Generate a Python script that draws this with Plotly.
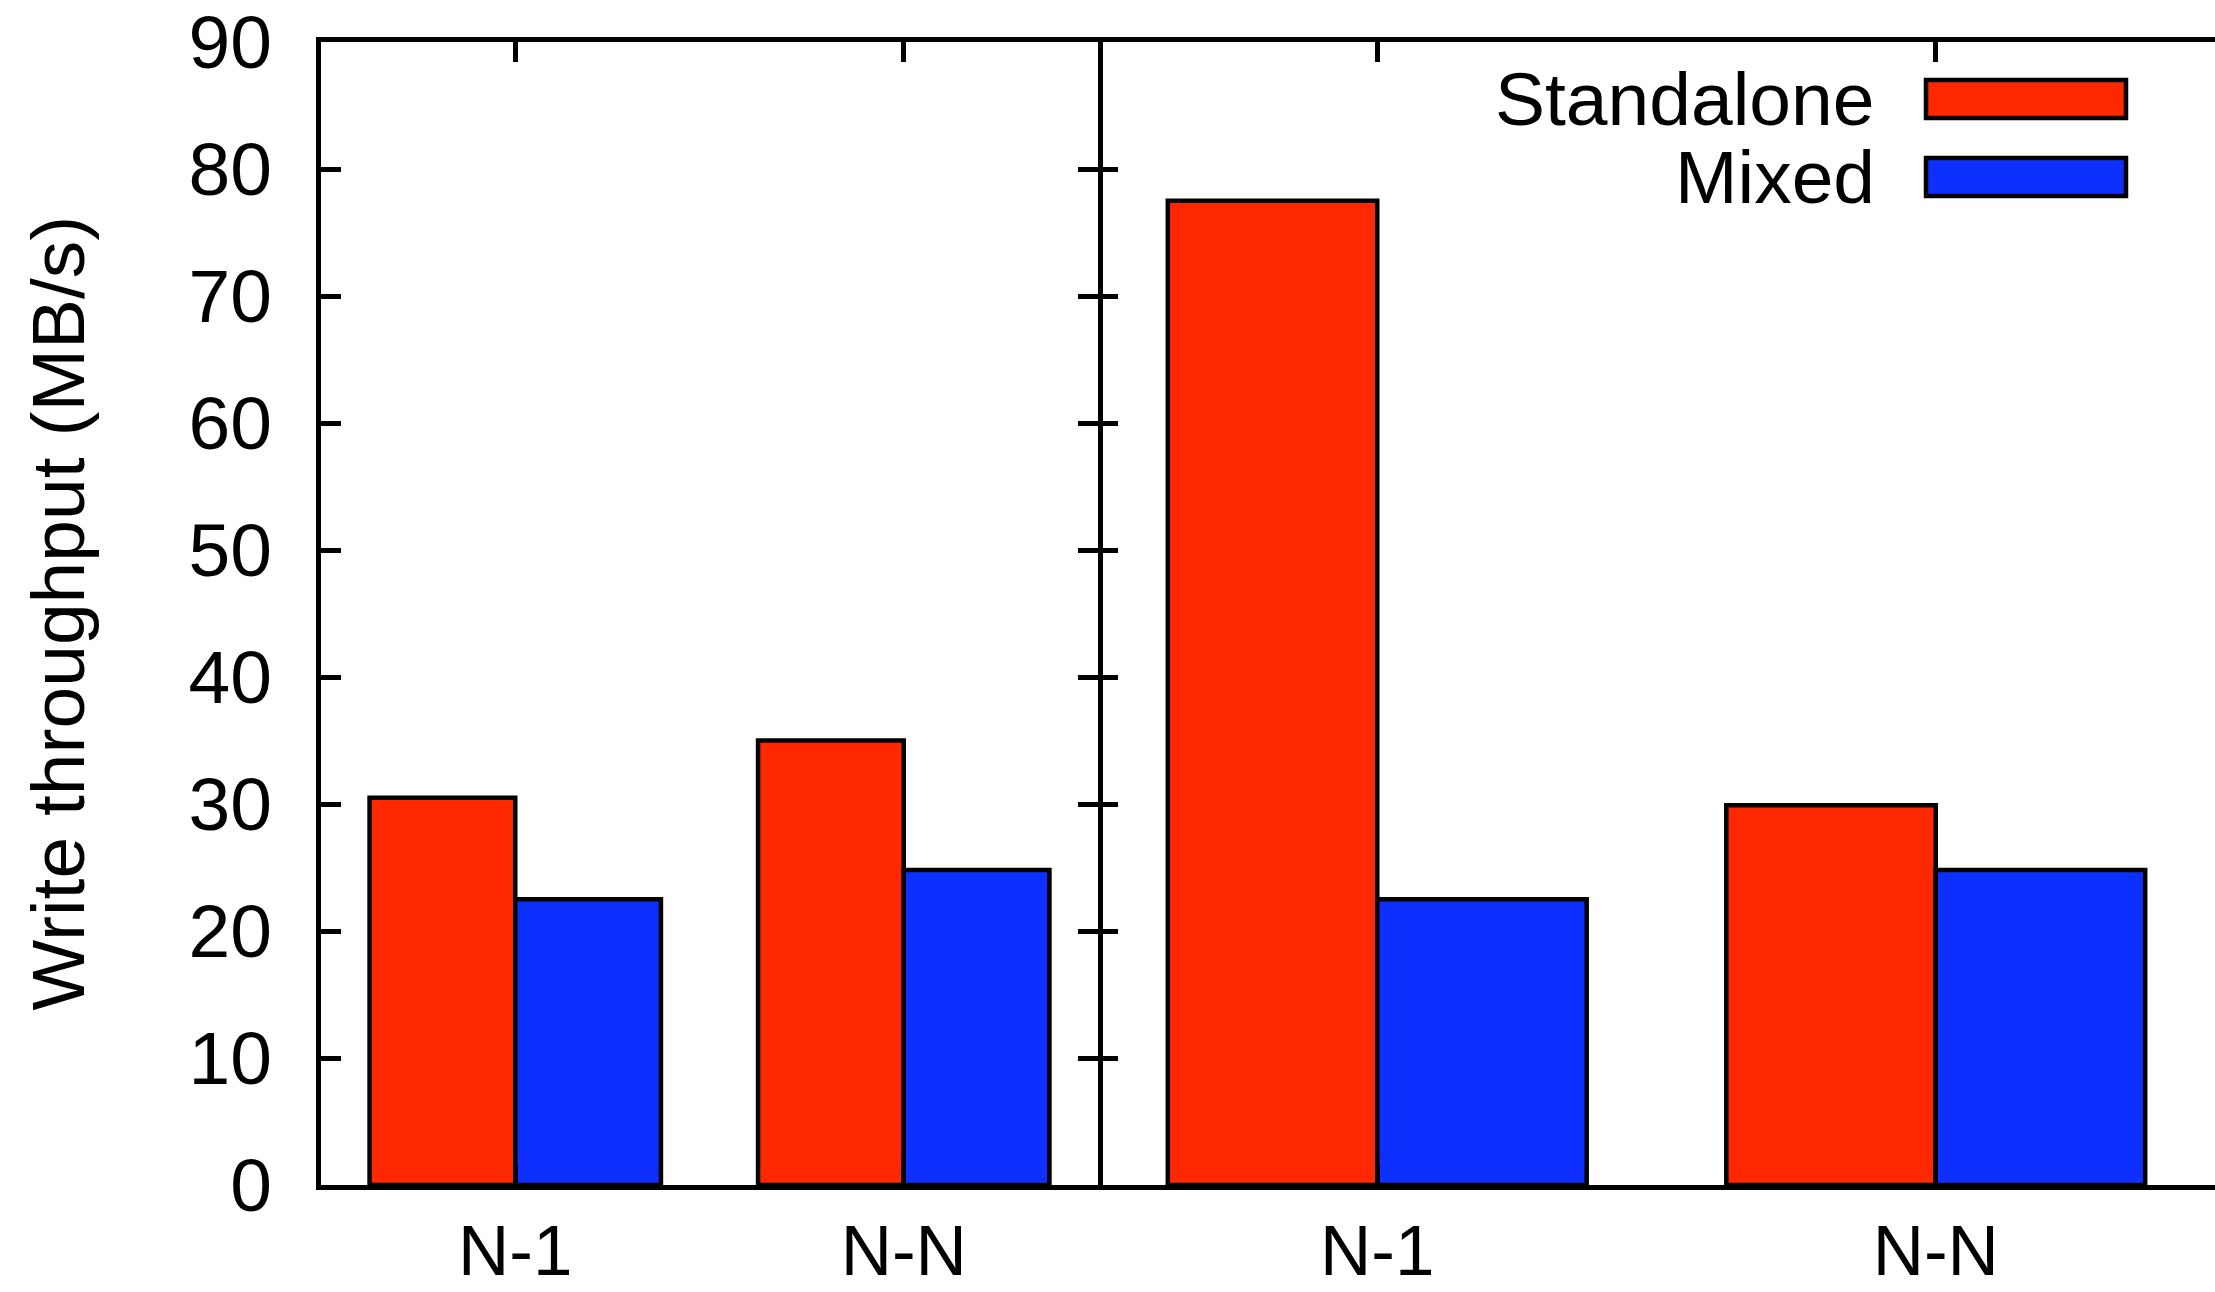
import plotly.graph_objects as go

categories = ["N-1", "N-N"]
series_names = ["Standalone", "Mixed"]
left_standalone = [30.5, 35.0]
left_mixed = [22.5, 24.8]
right_standalone = [77.5, 29.9]
right_mixed = [22.5, 24.8]
y_ticks = [0, 10, 20, 30, 40, 50, 60, 70, 80, 90]

RED = "#ff2800"
BLUE = "#0e30ff"
FONT = "Liberation Sans"
FS = 75
W, H = 2215, 1292
ML, MR, MT, MB = 321, 0, 42, 107
plot_w = W - ML - MR
plot_h = H - MT - MB
divider = (1098 - ML) / plot_w
LW = 5

fig = go.Figure()
bar_line = dict(color="black", width=4.5)
fig.add_trace(go.Bar(x=categories, y=left_standalone, name=series_names[0],
                     marker=dict(color=RED, line=bar_line), xaxis="x", yaxis="y", showlegend=False))
fig.add_trace(go.Bar(x=categories, y=left_mixed, name=series_names[1],
                     marker=dict(color=BLUE, line=bar_line), xaxis="x", yaxis="y", showlegend=False))
fig.add_trace(go.Bar(x=categories, y=right_standalone, name=series_names[0],
                     marker=dict(color=RED, line=bar_line), xaxis="x2", yaxis="y2", showlegend=False))
fig.add_trace(go.Bar(x=categories, y=right_mixed, name=series_names[1],
                     marker=dict(color=BLUE, line=bar_line), xaxis="x2", yaxis="y2", showlegend=False))

axis_common = dict(linecolor="black", linewidth=LW, ticks="inside", automargin=False,
                   ticklen=20, tickwidth=LW, tickcolor="black", showgrid=False, zeroline=False)
tick_font = dict(family=FONT, size=FS, color="black")
xtick_font = dict(family=FONT, size=71, color="black")

fig.update_layout(
    width=W, height=H,
    margin=dict(l=ML, r=MR, t=MT, b=MB, pad=0, autoexpand=False),
    paper_bgcolor="white", plot_bgcolor="white",
    barmode="group", bargap=0.25, bargroupgap=0,
    xaxis=dict(domain=[0, divider], anchor="y", range=[-0.5, 1.5], mirror="ticks", showline=True,
               ticklabelstandoff=0, tickfont=xtick_font, **axis_common),
    xaxis2=dict(domain=[divider, 1], anchor="y2", range=[-0.5, 1.5], mirror="ticks", showline=True,
                ticklabelstandoff=0, tickfont=xtick_font, **axis_common),
    yaxis=dict(domain=[0, 1], anchor="x", range=[0, 90], tickvals=y_ticks, mirror="ticks",
               showline=True, ticklabelstandoff=29, tickfont=tick_font, **axis_common),
    yaxis2=dict(domain=[0, 1], anchor="x2", range=[0, 90], tickvals=y_ticks, showline=False,
                showticklabels=False, **axis_common),
    yaxis3=dict(overlaying="y2", anchor="x2", side="right", range=[0, 90], tickvals=y_ticks,
                showticklabels=False, ticks="inside", ticklen=20, tickwidth=LW, tickcolor="black",
                showline=False, showgrid=False, zeroline=False, automargin=False),
)

# y-axis title
fig.add_annotation(text="Write throughput (MB/s)", xref="paper", yref="paper",
                   x=(57 - ML) / plot_w, y=0.5, xanchor="center", yanchor="middle",
                   textangle=-90, showarrow=False,
                   font=dict(family=FONT, size=FS, color="black"))

# legend (manual, gnuplot style)
legend_colors = [RED, BLUE]
row_centers = [99, 177]
for name, col, yc in zip(series_names, legend_colors, row_centers):
    yp = 1 - (yc - MT) / plot_h
    fig.add_annotation(text=name, xref="paper", yref="paper",
                       x=(1877 - ML) / plot_w, y=yp, xanchor="right", yanchor="middle",
                       showarrow=False, font=dict(family=FONT, size=FS, color="black"))
    fig.add_shape(type="rect", xref="paper", yref="paper",
                  x0=(1926 - ML) / plot_w, x1=(2126 - ML) / plot_w,
                  y0=1 - (yc + 19 - MT) / plot_h, y1=1 - (yc - 19 - MT) / plot_h,
                  fillcolor=col, line=dict(color="black", width=4.5))

fig.write_html("out.html", config={"displayModeBar": False},
               post_script="document.body.style.margin='0px';document.body.style.overflow='hidden';")
